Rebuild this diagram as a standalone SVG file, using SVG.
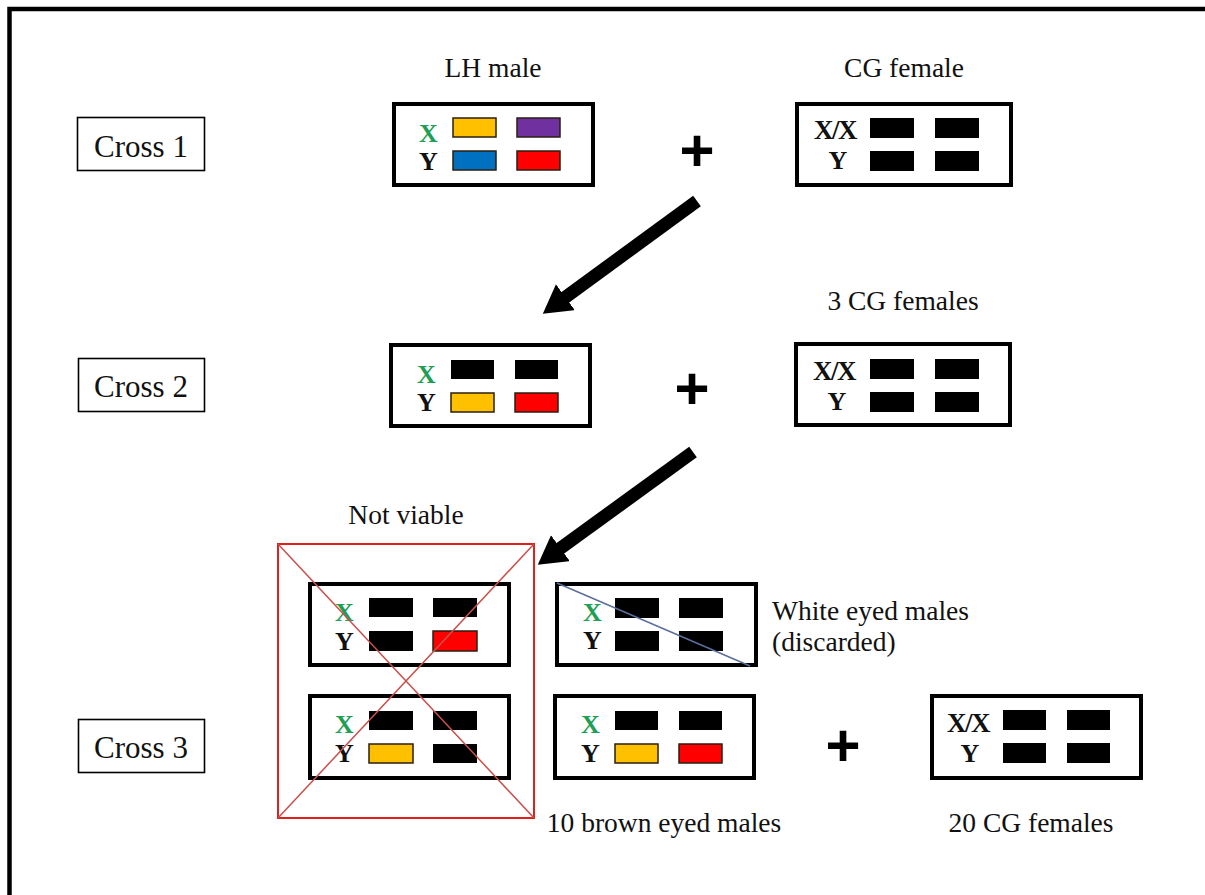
<svg xmlns="http://www.w3.org/2000/svg" width="1205" height="895" viewBox="0 0 1205 895">
<style>
.bg{fill:#fff}
.frame{fill:none;stroke:#000;stroke-width:4.5}
.lab{fill:#fff;stroke:#000;stroke-width:1.6}
.box{fill:#fff;stroke:#000;stroke-width:4}
.t{font-family:"Liberation Serif","Times New Roman",serif;font-size:27.5px;fill:#111}
.ct{font-family:"Liberation Serif","Times New Roman",serif;font-size:31px;fill:#111;text-anchor:middle}
.mid{text-anchor:middle}
.chr{font-family:"Liberation Serif","Times New Roman",serif;font-size:26px;font-weight:bold;fill:#111}
.xx{font-size:27px;letter-spacing:-1.5px}
.xg{fill:#1f9e55}
.blk{fill:#000}
.col{stroke:#2a1e10;stroke-width:1.5}
.plus{font-family:"Liberation Sans",Arial,sans-serif;font-size:60px;font-weight:bold;fill:#000;text-anchor:middle}
.arrow{stroke:#000;stroke-width:13;fill:none}
</style>
<defs>
<marker id="head" markerUnits="userSpaceOnUse" markerWidth="30" markerHeight="34" refX="3" refY="16" orient="auto">
<path d="M0,0 L28,16 L0,32 z" fill="#000"/>
</marker>
</defs>
<rect class="bg" x="0" y="0" width="1205" height="895"/>
<path class="frame" d="M9.5,895 V9 H1205"/>

<g id="cross1-label"><rect class="lab" x="77.5" y="117.5" width="127" height="53"/><text class="ct" x="141" y="157">Cross 1</text></g>
<g id="cross2-label"><rect class="lab" x="78.5" y="358.5" width="126" height="53"/><text class="ct" x="141" y="397">Cross 2</text></g>
<g id="cross3-label"><rect class="lab" x="78.5" y="719.5" width="126" height="53"/><text class="ct" x="141" y="758">Cross 3</text></g>

<g id="lh-male">
<text class="t mid" x="493" y="77">LH male</text>
<rect class="box" x="394" y="104" width="199" height="81"/>
<text class="chr xg" x="419" y="142">X</text><text class="chr" x="419" y="170">Y</text>
<rect class="col" x="453" y="118" width="43" height="19" fill="#ffc000"/>
<rect class="col" x="517" y="118" width="43" height="19" fill="#7030a0"/>
<rect class="col" x="453" y="151" width="43" height="19" fill="#0070c0"/>
<rect class="col" x="517" y="151" width="43" height="19" fill="#ff0000"/>
</g>

<g id="cg-female">
<text class="t mid" x="904" y="77">CG female</text>
<rect class="box" x="797" y="104" width="214" height="81"/>
<text class="chr xx" x="814" y="139">X/X</text><text class="chr mid" x="838" y="169">Y</text>
<rect class="blk" x="870" y="118" width="44" height="20"/><rect class="blk" x="935" y="118" width="44" height="20"/>
<rect class="blk" x="870" y="151" width="44" height="20"/><rect class="blk" x="935" y="151" width="44" height="20"/>
</g>
<text id="plus1" class="plus" x="697" y="171">+</text>

<g id="f1-male">
<rect class="box" x="391" y="345" width="199" height="81"/>
<text class="chr xg" x="417" y="383">X</text><text class="chr" x="417" y="411">Y</text>
<rect class="blk" x="451" y="360" width="43" height="19"/>
<rect class="blk" x="515" y="360" width="43" height="19"/>
<rect class="col" x="451" y="393" width="43" height="19" fill="#ffc000"/>
<rect class="col" x="515" y="393" width="43" height="19" fill="#ff0000"/>
</g>

<g id="cg-females-3">
<text class="t mid" x="903" y="310">3 CG females</text>
<rect class="box" x="796" y="344" width="214" height="81"/>
<text class="chr xx" x="813" y="380">X/X</text><text class="chr mid" x="837" y="410">Y</text>
<rect class="blk" x="870" y="359" width="44" height="20"/><rect class="blk" x="935" y="359" width="44" height="20"/>
<rect class="blk" x="870" y="392" width="44" height="20"/><rect class="blk" x="935" y="392" width="44" height="20"/>
</g>
<text id="plus2" class="plus" x="692" y="409">+</text>

<g id="not-viable">
<text class="t mid" x="406" y="524">Not viable</text>
<g id="nv-top">
<rect class="box" x="310" y="584" width="199" height="81"/>
<text class="chr xg" x="335" y="621">X</text><text class="chr" x="335" y="650">Y</text>
<rect class="blk" x="369" y="598" width="44" height="19"/>
<rect class="blk" x="433" y="598" width="44" height="19"/>
<rect class="blk" x="369" y="631" width="44" height="20"/>
<rect class="col" x="433" y="631" width="44" height="20" fill="#ff0000"/>
</g>
<g id="nv-bottom">
<rect class="box" x="310" y="696" width="199" height="82"/>
<text class="chr xg" x="335" y="733">X</text><text class="chr" x="335" y="762">Y</text>
<rect class="blk" x="369" y="711" width="44" height="19"/>
<rect class="blk" x="433" y="711" width="44" height="19"/>
<rect class="col" x="369" y="744" width="44" height="19" fill="#ffc000"/>
<rect class="blk" x="433" y="744" width="44" height="19"/>
</g>
<rect x="278" y="544" width="256" height="274" fill="none" stroke="#e0201c" stroke-width="2"/>
<path d="M278,544 L534,818 M534,544 L278,818" stroke="#c8504a" stroke-width="1.5" fill="none"/>
</g>

<g id="white-eyed">
<rect class="box" x="557" y="584" width="199" height="81"/>
<text class="chr xg" x="583" y="621">X</text><text class="chr" x="583" y="649">Y</text>
<rect class="blk" x="615" y="598" width="44" height="20"/>
<rect class="blk" x="679" y="598" width="44" height="20"/>
<rect class="blk" x="615" y="631" width="44" height="20"/>
<rect class="blk" x="679" y="631" width="44" height="20"/>
<path d="M557,583 L750,666" stroke="#5b6f9c" stroke-width="1.5" fill="none"/>
<text class="t" x="772" y="620">White eyed males</text>
<text class="t" x="772" y="651">(discarded)</text>
</g>

<g id="brown-eyed">
<rect class="box" x="555" y="696" width="199" height="82"/>
<text class="chr xg" x="581" y="733">X</text><text class="chr" x="581" y="762">Y</text>
<rect class="blk" x="615" y="711" width="43" height="19"/>
<rect class="blk" x="679" y="711" width="43" height="19"/>
<rect class="col" x="615" y="744" width="43" height="19" fill="#ffc000"/>
<rect class="col" x="679" y="744" width="43" height="19" fill="#ff0000"/>
<text class="t mid" x="664" y="832">10 brown eyed males</text>
</g>
<text id="plus3" class="plus" x="843" y="766">+</text>

<g id="cg-females-20">
<rect class="box" x="932" y="696" width="209" height="82"/>
<text class="chr xx" x="947" y="732">X/X</text><text class="chr mid" x="970" y="762">Y</text>
<rect class="blk" x="1003" y="710" width="43" height="20"/><rect class="blk" x="1067" y="710" width="43" height="20"/>
<rect class="blk" x="1003" y="743" width="43" height="20"/><rect class="blk" x="1067" y="743" width="43" height="20"/>
<text class="t mid" x="1031" y="832">20 CG females</text>
</g>

<g id="connectors">
<line class="arrow" x1="697" y1="201" x2="563" y2="299" marker-end="url(#head)"/>
<line class="arrow" x1="693" y1="452" x2="558" y2="550" marker-end="url(#head)"/>
</g>
</svg>
